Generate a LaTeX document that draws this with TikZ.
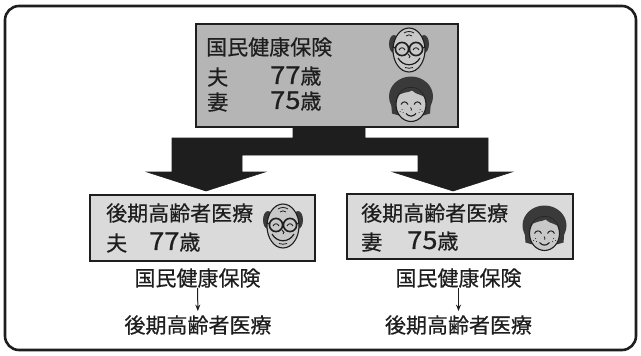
\documentclass[tikz,border=0pt]{standalone}
\usepackage{fontspec}
\setmainfont{Noto Sans CJK JP}
\newfontfamily\jpfont{Noto Sans CJK JP}[FakeBold=0.5]
\usetikzlibrary{arrows.meta}
\definecolor{ink}{HTML}{1E1E1E}
\definecolor{boxdark}{HTML}{B5B5B5}
\definecolor{boxlight}{HTML}{DADADA}
\definecolor{skin}{HTML}{C8C8C8}
\definecolor{hair}{HTML}{3A3A3A}
\newcommand{\agenum}[1]{\scalebox{1.3}[1.18]{#1}}
\tikzset{
  frame/.style={draw=ink, line width=2.6pt, rounded corners=14pt},
  topbox/.style={draw=ink, line width=1.4pt, fill=boxdark, inner sep=0pt},
  subbox/.style={draw=ink, line width=1.4pt, fill=boxlight, inner sep=0pt},
  jtext/.style={inner sep=0pt, text=ink, font=\jpfont\fontsize{21}{24}\selectfont},
  bigarrow/.style={fill=ink, draw=ink, line width=0.6pt, line join=miter},
  smallarrow/.style={draw=ink, line width=1pt, -{Stealth[length=6.5pt,width=5pt]}},
  oldman/.pic={
    % side hair
    \fill[hair] (-15,-6) ellipse [x radius=5, y radius=9];
    \fill[hair] (15,-6) ellipse [x radius=5, y radius=9];
    % head
    \draw[ink, line width=1.1pt, fill=skin] (0,0) ellipse [x radius=16, y radius=22];
    % forehead lines
    \draw[ink, line width=0.8pt] (-5,-17) .. controls (-2,-19) and (2,-19) .. (5,-17);
    \draw[ink, line width=0.8pt] (-3,-14) .. controls (-1,-15.5) and (1,-15.5) .. (3,-14);
    % glasses
    \draw[ink, line width=1.6pt] (-7,-1) circle [radius=6.6];
    \draw[ink, line width=1.6pt] (7,-1) circle [radius=6.6];
    \draw[ink, line width=1.2pt] (-0.8,-2) -- (0.8,-2);
    \draw[ink, line width=1.2pt] (-13.6,-2) -- (-16,-3);
    \draw[ink, line width=1.2pt] (13.6,-2) -- (16,-3);
    % eyes
    \draw[ink, line width=0.9pt] (-10,0) .. controls (-8.5,-3) and (-5.5,-3) .. (-4,0);
    \draw[ink, line width=0.9pt] (4,0) .. controls (5.5,-3) and (8.5,-3) .. (10,0);
    % nose
    \draw[ink, line width=0.9pt] (-1,4) .. controls (1,6) and (2,7) .. (0,8);
    % smile
    \draw[ink, line width=1.2pt] (-11,8) .. controls (-6,17) and (6,17) .. (11,8);
    \draw[ink, line width=0.8pt] (-4,17.5) .. controls (-1,18.5) and (1,18.5) .. (4,17.5);
  },
  oldwoman/.pic={
    % hair mass
    \fill[hair] (0,-3) ellipse [x radius=22, y radius=20];
    \fill[hair] (-20,2) -- (-19,14) -- (-12,16) -- (-12,0) -- cycle;
    \fill[hair] (20,2) -- (19,14) -- (12,16) -- (12,0) -- cycle;
    % face
    \draw[ink, line width=1.1pt, fill=skin] (0,5) ellipse [x radius=15, y radius=17];
    % fringe
    \begin{scope}
      \clip (0,5) ellipse [x radius=15, y radius=17];
      \fill[hair] (-16,-1) .. controls (-9,-9) and (-3,-6) .. (1,-9)
        .. controls (6,-4) and (11,-6) .. (16,0) -- (16,-15) -- (-16,-15) -- cycle;
    \end{scope}
    % closed smiling eyes
    \draw[ink, line width=1pt] (-10,5) .. controls (-8.5,1.5) and (-4.5,1.5) .. (-3,5);
    \draw[ink, line width=1pt] (3,5) .. controls (4.5,1.5) and (8.5,1.5) .. (10,5);
    % nose
    \draw[ink, line width=0.8pt] (-0.5,8) .. controls (0.5,9.5) and (1,10) .. (0,11);
    % smile
    \draw[ink, line width=1.1pt] (-5,14) .. controls (-2,17.5) and (2,17.5) .. (5,14);
    % cheeks
    \foreach \p in {(-9,10),(-11,12),(-8,13),(9,10),(11,12),(8,13)}
      \fill[ink] \p circle [radius=0.5];
  }
}
\begin{document}
\begin{tikzpicture}[x=1pt, y=-1pt]
\useasboundingbox (0,0) rectangle (641,356);
\fill[white] (0,0) rectangle (641,356);

% outer frame
\draw[frame] (5,6) rectangle (636,350);

% household box
\node[topbox, minimum width=262pt, minimum height=103pt] (top) at (327,75.5) {};
\node[jtext, anchor=west] (topIns) at (206,47) {国民健康保険};
\node[jtext, anchor=west] (topH) at (207,77) {夫};
\node[jtext, anchor=west] (topHage) at (270,76) {\agenum{77}歳};
\node[jtext, anchor=west] (topW) at (207,102) {妻};
\node[jtext, anchor=west] (topWage) at (270,101) {\agenum{75}歳};
\pic at (409,50) {oldman};
\pic at (411,99.5) {oldwoman};

% individual boxes
\node[subbox, minimum width=225pt, minimum height=66pt] (lbox) at (202.5,228) {};
\node[subbox, minimum width=226pt, minimum height=65pt] (rbox) at (460,226.5) {};

\node[jtext, anchor=west] (lIns) at (106,213) {後期高齢者医療};
\node[jtext, anchor=west] (lH) at (106,243) {夫};
\node[jtext, anchor=west] (lHage) at (149,242) {\agenum{77}歳};
\pic at (283,226) {oldman};

\node[jtext, anchor=west] (rIns) at (361,213) {後期高齢者医療};
\node[jtext, anchor=west] (rW) at (361,242) {妻};
\node[jtext, anchor=west] (rWage) at (407,241) {\agenum{75}歳};
\pic at (544.5,228.5) {oldwoman};

% branching arrow from the household box
\fill[bigarrow] (293,127) -- (365,127) -- (365,138) -- (488,138) -- (488,172)
  -- (512,172) -- (453,191) -- (393,172) -- (418,172) -- (418,155)
  -- (242,155) -- (242,172) -- (265,172) -- (206,191) -- (147,172)
  -- (172,172) -- (172,138) -- (293,138) -- cycle;

% transitions below each box
\node[jtext] (lFrom) at (197.5,278) {国民健康保険};
\node[jtext] (lTo) at (198,325) {後期高齢者医療};
\draw[smallarrow, shorten >=4pt] (lFrom) -- (lTo);
\node[jtext] (rFrom) at (458.5,278) {国民健康保険};
\node[jtext] (rTo) at (458.5,325) {後期高齢者医療};
\draw[smallarrow, shorten >=4pt] (rFrom) -- (rTo);
\end{tikzpicture}
\end{document}
